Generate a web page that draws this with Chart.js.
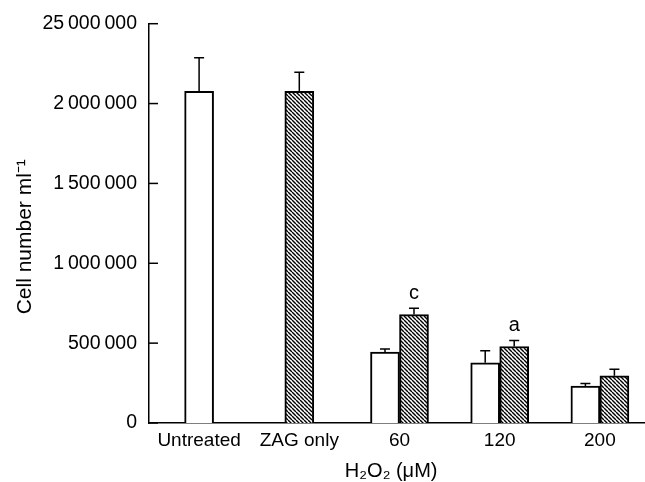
<!DOCTYPE html>
<html>
<head>
<meta charset="utf-8">
<script src="https://cdn.jsdelivr.net/npm/chart.js@4/dist/chart.umd.min.js"></script>
<style>
  html, body { margin: 0; padding: 0; background: #fff; overflow: hidden; }
  #wrap { width: 660px; height: 482px; position: relative; }
</style>
</head>
<body>
<div id="wrap"><canvas id="c"></canvas></div>
<script>
// ---- data ----
const categories = ['Untreated', 'ZAG only', '60', '120', '200'];
const controlValues = [2077000, null, 444000, 377000, 231000];
const controlErrors = [210000, null, 20000, 75000, 17000];
const zagValues = [null, 2077000, 679000, 479000, 296000];
const zagErrors = [null, 119000, 40000, 38000, 40000];
const zagLetters = ['', '', 'c', 'a', ''];
const yTickLabels = ['0', '500\u2009000', '1\u2009000\u2009000', '1\u2009500\u2009000', '2\u2009000\u2009000', '25\u2009000\u2009000'];
const yTitle = 'Cell number ml\u207B\u00B9';
const xTitle = 'H\u2082O\u2082 (\u03BCM)';

const FONT = '"Liberation Sans", Arial, Helvetica, sans-serif';

function makeHatch() {
  const c = document.createElement('canvas');
  c.width = 4; c.height = 4;
  const g = c.getContext('2d');
  g.fillStyle = '#fff';
  g.fillRect(0, 0, 4, 4);
  g.strokeStyle = '#000';
  g.lineWidth = 1.4;
  [-4, 0, 4].forEach(x0 => {
    g.beginPath();
    g.moveTo(x0, 0);
    g.lineTo(x0 + 4, 4);
    g.stroke();
  });
  return g.createPattern(c, 'repeat');
}

const errorSets = [controlErrors, zagErrors];
const letterSets = [null, zagLetters];

const extrasPlugin = {
  id: 'extras',
  afterDatasetsDraw(chart) {
    const ctx = chart.ctx;
    const yScale = chart.scales.y;
    ctx.save();
    ctx.strokeStyle = '#000';
    ctx.lineWidth = 1.5;
    // error bars
    chart.data.datasets.forEach((ds, di) => {
      const meta = chart.getDatasetMeta(di);
      meta.data.forEach((el, i) => {
        const v = ds.data[i];
        const e = errorSets[di][i];
        if (v == null || e == null) return;
        const yTop = yScale.getPixelForValue(v + e);
        ctx.beginPath();
        ctx.moveTo(el.x, el.y);
        ctx.lineTo(el.x, yTop);
        ctx.moveTo(el.x - 5, yTop);
        ctx.lineTo(el.x + 5, yTop);
        ctx.stroke();
        const letters = letterSets[di];
        if (letters && letters[i]) {
          ctx.fillStyle = '#000';
          ctx.font = '20px ' + FONT;
          ctx.textAlign = 'center';
          ctx.textBaseline = 'middle';
          ctx.fillText(letters[i], el.x, yTop - 15);
        }
      });
    });
    // inward y ticks
    const left = chart.chartArea.left;
    yScale.ticks.forEach(t => {
      const y = yScale.getPixelForValue(t.value);
      ctx.beginPath();
      ctx.moveTo(left, y);
      ctx.lineTo(left + 9, y);
      ctx.stroke();
    });
    ctx.restore();
  }
};

const hatch = makeHatch();

new Chart(document.getElementById('c'), {
  type: 'bar',
  data: {
    labels: categories,
    datasets: [
      {
        label: 'Control',
        data: controlValues,
        backgroundColor: '#fff',
        borderColor: '#000',
        borderWidth: 2,
        barThickness: 29,
        skipNull: true
      },
      {
        label: 'ZAG',
        data: zagValues,
        backgroundColor: hatch,
        borderColor: '#000',
        borderWidth: 2,
        barThickness: 29,
        skipNull: true
      }
    ]
  },
  options: {
    responsive: true,
    maintainAspectRatio: false,
    animation: false,
    datasets: { bar: { skipNull: true } },
    layout: { padding: { top: 23, right: 10, bottom: 0, left: 0 } },
    plugins: { legend: { display: false }, tooltip: { enabled: false } },
    scales: {
      x: {
        type: 'category',
        offset: true,
        grid: { display: false, drawTicks: false },
        border: { display: true, color: '#000', width: 1.5 },
        ticks: {
          color: '#000',
          font: { family: FONT, size: 19 },
          padding: 6,
          maxRotation: 0,
          autoSkip: false
        },
        title: {
          display: true,
          text: xTitle + '   ',
          color: '#000',
          font: { family: FONT, size: 20, lineHeight: 1 },
          padding: { top: 0, bottom: 1 }
        },
        afterFit(scale) { scale.height = 59; }
      },
      y: {
        min: 0,
        max: 2500000,
        grid: { display: false, drawTicks: false },
        border: { display: true, color: '#000', width: 1.5 },
        ticks: {
          stepSize: 500000,
          color: '#000',
          font: { family: FONT, size: 19.5 },
          padding: 12,
          callback: (value, index) => yTickLabels[index]
        },
        title: {
          display: true,
          text: yTitle + '\u2002\u2002 ',
          color: '#000',
          font: { family: FONT, size: 21, lineHeight: 1 },
          padding: { top: 15, bottom: 0 }
        },
        afterFit(scale) { scale.width = 149; }
      }
    }
  },
  plugins: [extrasPlugin]
});
</script>
</body>
</html>
